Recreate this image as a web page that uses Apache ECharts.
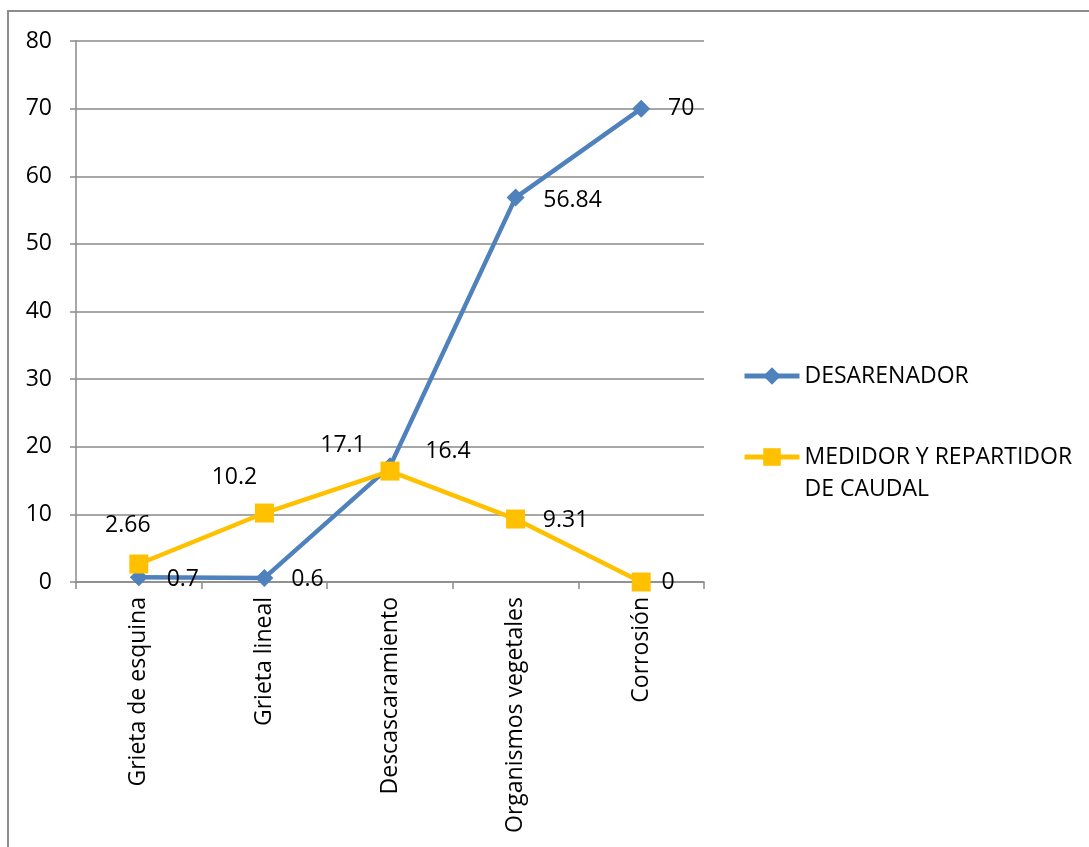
<!DOCTYPE html>
<html>
<head>
<meta charset="utf-8">
<script src="https://cdn.jsdelivr.net/npm/echarts@6/dist/echarts.min.js"></script>
<style>
  html, body { margin: 0; padding: 0; background: #ffffff; }
  #chart { width: 1089px; height: 847px; }
</style>
</head>
<body>
<div id="chart"></div>
<script>
// Damage categories along the x axis
var categories = ['Grieta de esquina', 'Grieta lineal', 'Descascaramiento', 'Organismos vegetales', 'Corrosión'];

// Series values (percentages)
var desarenador = [0.7, 0.6, 17.1, 56.84, 70];
var medidor = [2.66, 10.2, 16.4, 9.31, 0];

var seriesNames = ['DESARENADOR', 'MEDIDOR Y REPARTIDOR\nDE CAUDAL'];

// Y axis range
var yMin = 0, yMax = 80, yStep = 10;

// Label offsets relative to each point (pixels)
var blueLabelOffsets = [[44, 2], [43, 2], [-47, -21], [57, 3], [40, 0]];
var orangeLabelOffsets = [[-11, -39], [-30, -36], [58, -20], [50, 1], [27, 0]];

var FONT = '"Open Sans", sans-serif';
var GRID_COLOR = '#8a8a8a';

function withLabels(values, offsets) {
  return values.map(function (v, i) {
    return {
      value: v,
      label: { offset: offsets[i] }
    };
  });
}

var chart = echarts.init(document.getElementById('chart'), null, { renderer: 'canvas' });

chart.setOption({
  animation: false,
  backgroundColor: '#ffffff',
  graphic: [{
    type: 'rect',
    shape: { x: 8, y: 11, width: 1200, height: 1000 },
    style: { fill: 'none', stroke: '#8c8c8c', lineWidth: 2 },
    silent: true
  }],
  grid: { left: 76, top: 41, right: 385, bottom: 265, containLabel: false },
  legend: {
    orient: 'vertical',
    left: 742,
    top: 360,
    padding: 0,
    itemWidth: 55,
    itemHeight: 22,
    itemGap: 17,
    selectedMode: false,
    data: [seriesNames[0], seriesNames[1]],
    lineStyle: { width: 5 },
    // keep the icon level with the first line of a wrapped name
    formatter: function (name) {
      return name.indexOf('\n') >= 0 ? '\u00a0\n' + name : name;
    },
    textStyle: {
      fontFamily: FONT,
      fontSize: 23,
      color: '#000000',
      lineHeight: 32
    }
  },
  xAxis: {
    type: 'category',
    data: categories,
    boundaryGap: true,
    axisLine: { show: true, lineStyle: { color: GRID_COLOR, width: 1.5 } },
    axisTick: { show: true, length: 7, alignWithLabel: false, lineStyle: { color: GRID_COLOR, width: 1.5 } },
    axisLabel: {
      rotate: 90,
      margin: 15,
      fontFamily: FONT,
      fontSize: 23,
      color: '#000000',
      interval: 0
    },
    splitLine: { show: false }
  },
  yAxis: {
    type: 'value',
    min: yMin,
    max: yMax,
    interval: yStep,
    axisLine: { show: true, lineStyle: { color: GRID_COLOR, width: 1.5 } },
    axisTick: { show: true, length: 6, lineStyle: { color: GRID_COLOR, width: 1.5 } },
    axisLabel: {
      margin: 24,
      fontFamily: FONT,
      fontSize: 23,
      color: '#000000'
    },
    splitLine: { show: true, lineStyle: { color: GRID_COLOR, width: 1.5 } }
  },
  series: [
    {
      name: seriesNames[0],
      type: 'line',
      data: withLabels(desarenador, blueLabelOffsets),
      symbol: 'diamond',
      symbolSize: 18,
      lineStyle: { color: '#4F81BD', width: 4.5 },
      itemStyle: { color: '#4F81BD' },
      label: {
        show: true,
        position: 'inside',
        fontFamily: FONT,
        fontSize: 23,
        color: '#000000'
      },
      z: 2
    },
    {
      name: seriesNames[1],
      type: 'line',
      data: withLabels(medidor, orangeLabelOffsets),
      symbol: 'rect',
      symbolSize: 19,
      lineStyle: { color: '#FFC000', width: 4.5 },
      itemStyle: { color: '#FFC000' },
      label: {
        show: true,
        position: 'inside',
        fontFamily: FONT,
        fontSize: 23,
        color: '#000000'
      },
      z: 3
    }
  ]
});
</script>
</body>
</html>
